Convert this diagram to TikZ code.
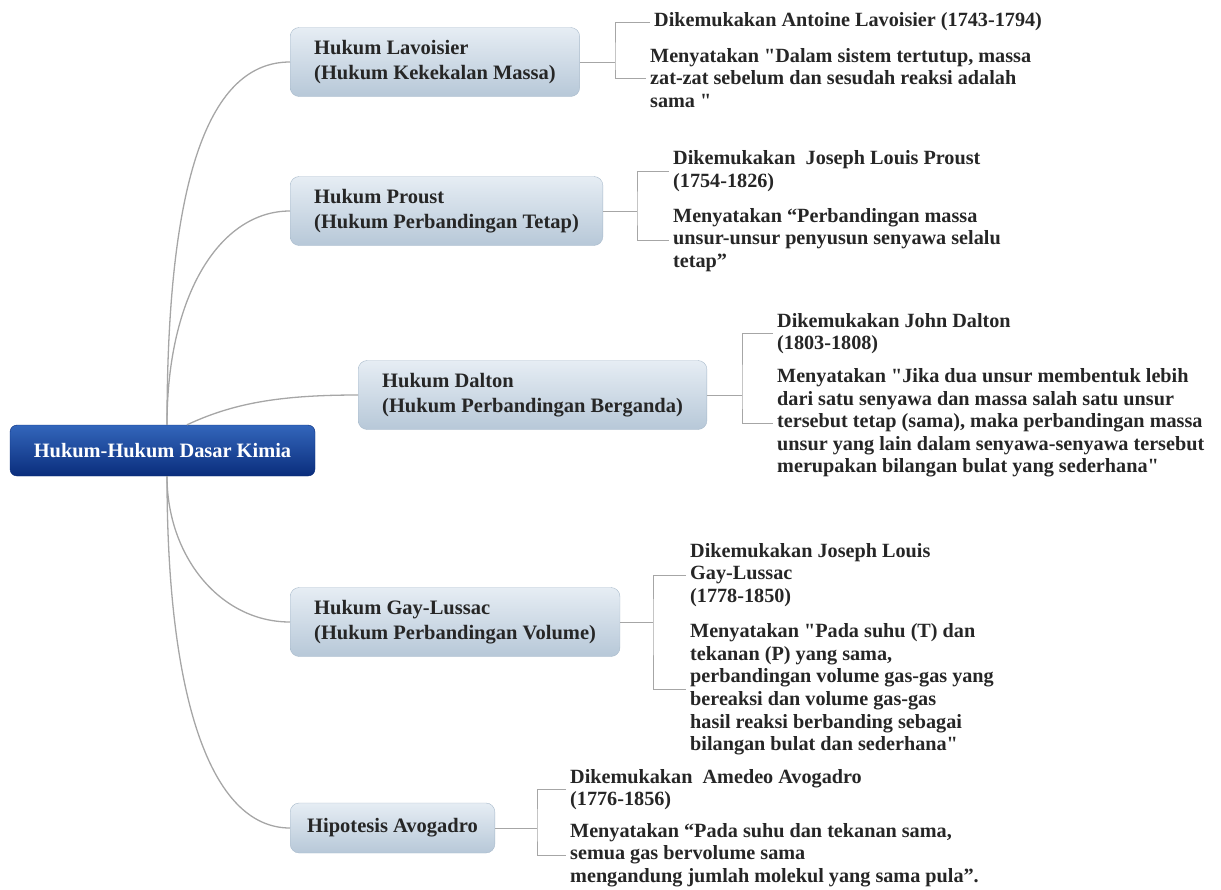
\documentclass[tikz,border=0pt]{standalone}
\usepackage{fontspec}
\setmainfont{Liberation Serif}[Ligatures=TeXOff]
\definecolor{lawtop}{HTML}{E6EDF4}
\definecolor{lawbottom}{HTML}{B7C8D8}
\definecolor{lawline}{HTML}{A8BACB}
\definecolor{roottop}{HTML}{3366BB}
\definecolor{rootbottom}{HTML}{0A2D7C}
\definecolor{ink}{HTML}{262626}
\definecolor{twig}{HTML}{A6A6A6}

\begin{document}
\begin{tikzpicture}[x=1pt, y=1pt,
  root/.style = {rectangle, rounded corners=7pt, draw=rootbottom, top color=roottop, bottom color=rootbottom, text=white, font=\bfseries\fontsize{20.4}{24}\selectfont, minimum width=305pt, minimum height=51pt},
  law/.style = {rectangle, rounded corners=9pt, draw=lawline, top color=lawtop, bottom color=lawbottom, text=ink, align=left, anchor=west, inner xsep=24pt, minimum height=69pt, font=\bfseries\fontsize{20.5}{25}\selectfont},
  info/.style = {anchor=west, align=left, inner sep=4pt, text=ink, font=\bfseries\fontsize{20.2}{22.6}\selectfont},
  branch/.style = {draw=twig, line width=1.3pt},
  bracket/.style = {draw=twig, line width=0.9pt}]
  \useasboundingbox (0,0) rectangle (1221,-889);

  % Root.
  \node at (162.5, -450.5) [root, name=root] {Hukum-Hukum Dasar Kimia};
  \coordinate (hub) at (167, -450);

  % Laws.
  \node at (290, -62) [law, name=lav] {Hukum Lavoisier\\(Hukum Kekekalan Massa)};
  \node at (290, -211) [law, name=proust] {Hukum Proust\\(Hukum Perbandingan Tetap)};
  \node at (358, -395) [law, name=dalton] {Hukum Dalton\\(Hukum Perbandingan Berganda)};
  \node at (290, -622) [law, name=gay] {Hukum Gay-Lussac\\(Hukum Perbandingan Volume)};
  \node at (290, -828) [law, name=avog, minimum height=50pt, inner xsep=17pt] {Hipotesis Avogadro};

  \draw [branch] (root.north -| hub)
                 to [out=90, in=180, out distance=250pt, in distance=80pt]
                 (lav.west);
  \draw [branch] (root.north -| hub)
                 to [out=90, in=180, out distance=130pt, in distance=70pt]
                 (proust.west);
  \draw [branch] ([xshift=20pt]root.north -| hub)
                 to [out=25, in=180, out distance=50pt, in distance=80pt]
                 (dalton.west);
  \draw [branch] (root.south -| hub)
                 to [out=-90, in=180, out distance=80pt, in distance=70pt]
                 (gay.west);
  \draw [branch] (root.south -| hub)
                 to [out=-90, in=180, out distance=220pt, in distance=80pt]
                 (avog.west);

  % Lavoisier
  \node at (650, -22) [info, name=lavwho] {Dikemukakan Antoine Lavoisier (1743-1794)};
  \node at (646, -78) [info, name=lavsays] {Menyatakan "Dalam sistem tertutup, massa\\zat-zat sebelum dan sesudah reaksi adalah\\sama "};
  \coordinate (lavfork) at (615, -62);
  \draw [bracket] (lav.east) -- (lavfork);
  \draw [bracket] (lavwho.west) -| (lavfork) |- (lavsays.west);

  % Proust
  \node at (669, -171) [info, name=proustwho] {Dikemukakan~ Joseph Louis Proust\\(1754-1826)};
  \node at (669, -240) [info, name=proustsays] {Menyatakan “Perbandingan massa\\unsur-unsur penyusun senyawa selalu\\tetap”};
  \coordinate (proustfork) at (637, -211);
  \draw [bracket] (proust.east) -- (proustfork);
  \draw [bracket] (proustwho.west) -| (proustfork) |- (proustsays.west);

  % Dalton
  \node at (773, -333.5) [info, name=daltonwho] {Dikemukakan John Dalton\\(1803-1808)};
  \node at (773, -423) [info, name=daltonsays] {Menyatakan "Jika dua unsur membentuk lebih\\dari satu senyawa dan massa salah satu unsur\\tersebut tetap (sama), maka perbandingan massa\\unsur yang lain dalam senyawa-senyawa tersebut\\merupakan bilangan bulat yang sederhana"};
  \coordinate (daltonfork) at (742, -395);
  \draw [bracket] (dalton.east) -- (daltonfork);
  \draw [bracket] (daltonwho.west) -| (daltonfork) |- (daltonsays.west);

  % Gay-Lussac
  \node at (686, -575) [info, name=gaywho] {Dikemukakan Joseph Louis\\Gay-Lussac\\(1778-1850)};
  \node at (686, -689.5) [info, name=gaysays] {Menyatakan "Pada suhu (T) dan\\tekanan (P) yang sama,\\perbandingan volume gas-gas yang\\bereaksi dan volume gas-gas\\hasil reaksi berbanding sebagai\\bilangan bulat dan sederhana"};
  \coordinate (gayfork) at (653, -622);
  \draw [bracket] (gay.east) -- (gayfork);
  \draw [bracket] (gaywho.west) -| (gayfork) |- (gaysays.west);

  % Avogadro
  \node at (566, -789.5) [info, name=avogwho] {Dikemukakan~ Amedeo Avogadro\\(1776-1856)};
  \node at (566, -855) [info, name=avogsays] {Menyatakan “Pada suhu dan tekanan sama,\\semua gas bervolume sama\\mengandung jumlah molekul yang sama pula”.};
  \coordinate (avogfork) at (537, -828);
  \draw [bracket] (avog.east) -- (avogfork);
  \draw [bracket] (avogwho.west) -| (avogfork) |- (avogsays.west);
\end{tikzpicture}
\end{document}
